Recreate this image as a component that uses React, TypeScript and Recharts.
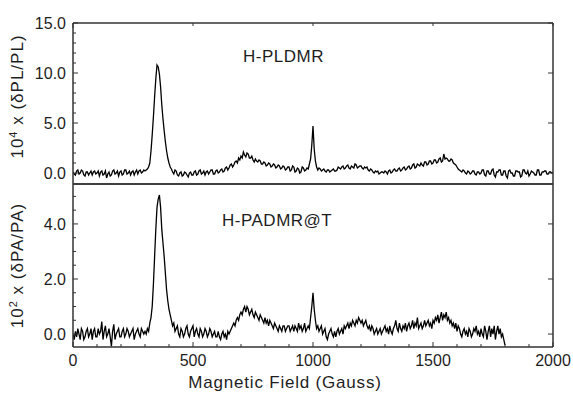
import React from "react";
import { LineChart, Line, XAxis, YAxis } from "recharts";

// field grid: one reading every 5 Gauss, starting at 0
const STEP = 5;

// 10^4 x (dPL/PL), 0..2000 G (one row = 100 G)
const plValues = [
  0.1, -0.1, -0.2, 0.2, 0.3, -0.1, 0.0, 0.3, 0.2, -0.2, -0.3, 0.1, 0.1, -0.2, 0.0, 0.2, -0.2, 0.1, 0.2, -0.1,
  0.0, 0.2, -0.3, 0.1, 0.2, -0.2, -0.1, 0.2, -0.5, -0.1, 0.1, -0.3, -0.2, 0.2, 0.3, -0.1, 0.0, 0.2, -0.3, 0.1,
  0.2, -0.2, -0.1, 0.3, 0.3, -0.1, 0.0, 0.2, -0.2, 0.1, 0.2, -0.2, 0.1, 0.3, -0.1, 0.2, 0.3, 0.0, 0.1, 0.3,
  0.2, 0.3, 0.4, 0.6, 1.0, 2.2, 3.8, 5.6, 7.6, 9.4, 10.8, 10.6, 9.9, 8.6, 6.8, 5.4, 4.2, 3.1, 2.2, 1.5,
  1.0, 0.6, 0.4, 0.1, -0.1, 0.3, 0.2, -0.2, -0.3, 0.0, 0.1, -0.3, -0.2, 0.1, 0.0, -0.2, -0.4, 0.0, 0.1, -0.2,
  -0.2, 0.1, 0.2, -0.2, -0.1, 0.2, 0.3, -0.1, 0.0, 0.2, -0.2, 0.1, 0.2, -0.1, 0.1, 0.3, 0.3, -0.1, -0.1, 0.2,
  0.3, 0.0, 0.1, 0.3, 0.4, 0.1, 0.2, 0.5, 0.6, 0.3, 0.5, 0.8, 0.9, 0.6, 0.8, 1.1, 1.2, 1.0, 1.5, 1.3,
  1.7, 1.5, 2.1, 1.8, 1.6, 2.0, 1.9, 1.5, 1.5, 1.7, 1.3, 1.1, 1.4, 1.2, 1.1, 1.3, 1.2, 0.9, 0.9, 1.1,
  1.0, 0.7, 0.8, 1.0, 0.9, 0.6, 0.7, 0.9, 0.8, 0.5, 0.6, 0.8, 0.7, 0.4, 0.5, 0.7, 0.6, 0.3, 0.4, 0.6,
  0.6, 0.2, 0.3, 0.7, 0.6, 0.1, 0.2, 0.5, 0.4, 0.0, 0.1, 0.6, 0.5, 0.2, 0.3, 0.5, 0.4, 0.9, 1.4, 2.8,
  4.7, 2.4, 1.2, 0.6, 0.3, 0.5, 0.4, 0.2, 0.3, 0.4, 0.2, 0.1, 0.3, 0.3, 0.1, 0.2, 0.3, 0.4, 0.2, 0.2,
  0.3, 0.6, 0.5, 0.4, 0.6, 0.7, 0.4, 0.5, 0.7, 0.8, 0.5, 0.4, 0.7, 0.6, 0.5, 0.9, 0.8, 0.5, 0.6, 0.7,
  0.7, 0.5, 0.4, 0.6, 0.5, 0.6, 0.3, 0.2, 0.4, 0.3, 0.1, 0.0, 0.2, 0.1, 0.2, -0.1, 0.0, 0.1, 0.1, 0.0,
  0.2, 0.1, -0.1, 0.2, 0.3, 0.0, 0.1, 0.3, 0.4, 0.2, 0.2, 0.4, 0.5, 0.2, 0.3, 0.5, 0.6, 0.3, 0.4, 0.6,
  0.7, 0.4, 0.5, 0.8, 0.9, 0.5, 0.6, 0.9, 0.8, 0.7, 1.0, 0.8, 0.7, 1.1, 1.1, 0.8, 0.9, 1.2, 1.2, 0.9,
  1.0, 1.3, 1.3, 1.0, 1.1, 1.4, 1.5, 1.1, 1.2, 1.9, 1.4, 1.5, 1.4, 1.2, 1.2, 1.4, 1.3, 1.0, 0.9, 0.8,
  0.6, 0.4, 0.3, 0.2, 0.1, 0.3, 0.2, 0.0, -0.1, 0.2, 0.1, -0.1, 0.0, 0.2, 0.2, -0.1, -0.2, 0.1, 0.1, -0.1,
  0.0, 0.3, 0.3, -0.2, -0.3, 0.2, 0.2, -0.1, -0.1, 0.3, 0.4, -0.2, -0.4, 0.1, 0.1, 0.3, 0.3, -0.2, -0.2, 0.2,
  0.2, -0.3, -0.5, 0.2, 0.3, 0.0, 0.0, -0.3, -0.3, 0.2, 0.2, 0.1, 0.1, -0.4, -0.3, 0.3, 0.3, 0.0, -0.1, 0.2,
  -0.3, -0.1, 0.2, 0.1, 0.0, -0.2, -0.2, 0.3, 0.3, -0.2, -0.2, 0.1, 0.1, 0.2, 0.2, -0.1, -0.1, 0.1, 0.1, 0.0,
  0.0,
];

// 10^2 x (dPA/PA), 0..1800 G (one row = 100 G)
const paValues = [
  0.0, -0.2, 0.1, -0.1, 0.2, 0.0, -0.2, 0.2, 0.1, -0.2, -0.1, 0.1, 0.2, -0.1, 0.0, 0.2, -0.2, 0.1, 0.2, -0.1,
  -0.1, 0.2, 0.0, 0.1, 0.45, -0.2, 0.1, 0.3, -0.1, 0.0, 0.2, -0.1, -0.45, 0.1, 0.35, -0.2, 0.0, 0.1, 0.2, -0.1,
  -0.1, 0.1, 0.2, -0.1, 0.0, 0.2, 0.1, -0.1, 0.0, 0.1, 0.2, -0.2, 0.0, 0.1, 0.2, 0.0, -0.1, 0.2, 0.1, 0.0,
  0.1, 0.0, 0.2, 0.1, 0.4, 0.6, 1.0, 1.8, 2.8, 3.8, 4.6, 4.9, 5.05, 4.6, 3.8, 3.3, 2.8, 2.2, 1.6, 1.2,
  0.9, 0.7, 0.5, 0.3, 0.4, 0.1, 0.2, 0.3, 0.0, -0.1, 0.2, 0.1, -0.1, 0.0, 0.2, 0.3, 0.0, -0.1, 0.1, 0.2,
  0.3, -0.1, 0.1, 0.2, 0.0, -0.1, 0.2, 0.1, -0.1, 0.0, 0.2, 0.1, -0.1, 0.0, 0.2, 0.1, -0.1, 0.0, 0.1, -0.1,
  -0.1, 0.1, -0.1, -0.2, 0.0, 0.1, -0.1, 0.0, -0.2, 0.1, 0.0, 0.1, 0.2, 0.3, 0.4, 0.3, 0.5, 0.6, 0.5, 0.7,
  0.8, 0.7, 0.9, 1.0, 0.8, 1.0, 0.9, 0.7, 0.8, 0.9, 0.7, 0.6, 0.8, 0.7, 0.6, 0.5, 0.7, 0.6, 0.5, 0.4,
  0.6, 0.4, 0.5, 0.3, 0.5, 0.4, 0.3, 0.2, 0.4, 0.3, 0.2, 0.1, 0.3, 0.2, 0.1, 0.3, 0.3, 0.1, 0.2, 0.3,
  0.3, 0.1, 0.2, 0.3, 0.1, 0.3, 0.2, 0.1, 0.4, 0.2, 0.3, 0.1, 0.2, 0.4, 0.1, 0.2, 0.3, 0.2, 0.6, 1.0,
  1.5, 0.9, 0.5, 0.2, 0.3, 0.1, 0.2, 0.3, 0.0, 0.1, 0.2, -0.1, -0.2, 0.0, 0.1, 0.2, 0.0, -0.1, 0.1, -0.1,
  0.1, 0.2, 0.0, 0.1, 0.2, 0.0, 0.3, 0.2, 0.3, 0.4, 0.2, 0.4, 0.3, 0.5, 0.4, 0.3, 0.5, 0.4, 0.6, 0.5,
  0.4, 0.5, 0.3, 0.4, 0.5, 0.3, 0.2, 0.3, 0.1, 0.3, 0.2, 0.0, 0.1, 0.2, 0.0, 0.1, 0.2, 0.0, 0.1, 0.2,
  0.3, 0.1, 0.2, 0.0, 0.3, 0.1, 0.0, 0.2, 0.3, 0.5, 0.2, 0.1, 0.4, 0.2, 0.1, 0.3, 0.2, 0.4, 0.1, 0.3,
  0.4, 0.2, 0.3, 0.5, 0.2, 0.4, 0.3, 0.6, 0.2, 0.3, 0.4, 0.2, 0.3, 0.5, 0.3, 0.4, 0.5, 0.3, 0.4, 0.2,
  0.5, 0.4, 0.6, 0.5, 0.7, 0.4, 0.6, 0.8, 0.5, 0.7, 0.6, 0.8, 0.5, 0.6, 0.4, 0.5, 0.3, 0.4, 0.2, 0.4,
  0.1, 0.3, 0.2, 0.0, -0.1, 0.1, 0.2, 0.0, 0.1, -0.1, 0.2, 0.1, -0.1, 0.0, 0.2, 0.1, 0.3, 0.0, 0.1, -0.1,
  0.2, 0.0, -0.1, 0.3, 0.1, -0.2, 0.1, 0.3, -0.1, 0.2, 0.0, 0.3, -0.2, 0.1, 0.3, 0.0, 0.2, -0.1, 0.0, -0.2,
  -0.4,
];

const xMajor = [0, 500, 1000, 1500, 2000];
const xMinor = [
  0, 100, 200, 300, 400, 500, 600, 700, 800, 900, 1000,
  1100, 1200, 1300, 1400, 1500, 1600, 1700, 1800, 1900, 2000,
];
const plMajor = [0, 5, 10, 15];
const plMinor = [0, 1, 2, 3, 4, 5, 6, 7, 8, 9, 10, 11, 12, 13, 14, 15];
const paMajor = [0, 2, 4];
const paMinor = [0, 0.5, 1, 1.5, 2, 2.5, 3, 3.5, 4, 4.5, 5];

const plData = plValues.map((v, i) => ({ g: i * STEP, v }));
const paData = paValues.map((v, i) => ({ g: i * STEP, v }));

const FONT = "'Liberation Sans', Arial, sans-serif";
const INK = "#1e1e1e";
const FRAME = "#333";

// tick renderers: line drawn inward, label outside
const leftTick = (majors: number[]) => (p: any) => {
  const val = p.payload.value;
  const big = majors.includes(val);
  return (
    <g>
      <line x1={p.x} y1={p.y} x2={p.x + (big ? 5 : 3)} y2={p.y} stroke={FRAME} />
      {big && (
        <text x={p.x - 7} y={p.y + 6} textAnchor="end" fontSize={16} fill={INK} fontFamily={FONT}>
          {val.toFixed(1)}
        </text>
      )}
    </g>
  );
};

const rightTick = (p: any) => (
  <line x1={p.x} y1={p.y} x2={p.x - 5} y2={p.y} stroke={FRAME} />
);

const topTick = (p: any) => {
  const big = xMajor.includes(p.payload.value);
  return <line x1={p.x} y1={p.y} x2={p.x} y2={p.y + (big ? 5 : 3)} stroke={FRAME} />;
};

const bottomTick = (p: any) => {
  const big = xMajor.includes(p.payload.value);
  return (
    <g>
      <line x1={p.x} y1={p.y} x2={p.x} y2={p.y - (big ? 5 : 3)} stroke={FRAME} />
      {big && (
        <text x={p.x} y={p.y + 19} textAnchor="middle" fontSize={16} fill={INK} fontFamily={FONT}>
          {p.payload.value}
        </text>
      )}
    </g>
  );
};

const noTick = () => <g />;

const yTitle = (sup: string, rest: string, dy: number) => (props: any) => {
  const vb = props.viewBox;
  const cx = vb.x + 23;
  const cy = vb.y + vb.height / 2 + dy;
  return (
    <text
      transform={`translate(${cx},${cy}) rotate(-90)`}
      textAnchor="middle"
      fontSize={17}
      fill={INK}
      fontFamily={FONT}
      letterSpacing={1}
    >
      10<tspan dy={-6} fontSize={11}>{sup}</tspan>
      <tspan dy={6}>{rest}</tspan>
    </text>
  );
};

const axisLine = { stroke: FRAME, strokeWidth: 1.5 };

const W = 573;
const H = 396;

const Panel = ({ data, domain, ticks, majors, top, bottom, title, showXLabels }: any) => (
  <div style={{ position: "absolute", left: 0, top: 0 }}>
    <LineChart
      width={W}
      height={H}
      data={data}
      margin={{ top: top - 1, right: 19, bottom: H - bottom - 1, left: 0 }}
    >
      <XAxis
        xAxisId="b"
        dataKey="g"
        type="number"
        domain={[0, 2000]}
        allowDataOverflow
        ticks={xMinor}
        interval={0}
        height={1}
        tickSize={0}
        tickMargin={0}
        tickLine={false}
        axisLine={axisLine}
        tick={showXLabels ? bottomTick : noTick}
        label={
          showXLabels
            ? () => (
                <text
                  x={285}
                  y={388}
                  textAnchor="middle"
                  fontSize={17}
                  fill={INK}
                  fontFamily={FONT}
                  letterSpacing={0.8}
                >
                  Magnetic Field (Gauss)
                </text>
              )
            : undefined
        }
      />
      <XAxis
        xAxisId="t"
        orientation="top"
        type="number"
        domain={[0, 2000]}
        allowDataOverflow
        ticks={xMinor}
        interval={0}
        height={1}
        tickSize={0}
        tickMargin={0}
        tickLine={false}
        axisLine={axisLine}
        tick={showXLabels ? noTick : topTick}
      />
      <YAxis
        yAxisId="l"
        type="number"
        domain={domain}
        allowDataOverflow
        ticks={ticks}
        interval={0}
        width={73}
        tickSize={0}
        tickMargin={0}
        tickLine={false}
        axisLine={axisLine}
        tick={leftTick(majors)}
        label={title}
      />
      <YAxis
        yAxisId="r"
        orientation="right"
        type="number"
        domain={domain}
        allowDataOverflow
        ticks={majors}
        interval={0}
        width={1}
        tickSize={0}
        tickMargin={0}
        tickLine={false}
        axisLine={axisLine}
        tick={rightTick}
      />
      <Line
        xAxisId="b"
        yAxisId="l"
        dataKey="v"
        type="linear"
        stroke="#000"
        strokeWidth={1.3}
        dot={false}
        isAnimationActive={false}
      />
    </LineChart>
  </div>
);

export default function App() {
  return (
    <div style={{ position: "relative", width: W, height: H, background: "#fff", fontFamily: FONT }}>
      <style>{`body{margin:0}`}</style>
      <Panel
        data={plData}
        domain={[-1.1, 15]}
        ticks={plMinor}
        majors={plMajor}
        top={23}
        bottom={184}
        title={yTitle("4", " x (δPL/PL)", -7)}
        showXLabels={false}
      />
      <Panel
        data={paData}
        domain={[-0.47, 5.45]}
        ticks={paMinor}
        majors={paMajor}
        top={184}
        bottom={347}
        title={yTitle("2", " x (δPA/PA)", 0)}
        showXLabels={true}
      />
      <div style={{ position: "absolute", left: 243, top: 47, fontSize: 17, color: INK, letterSpacing: 0.5 }}>
        H-PLDMR
      </div>
      <div style={{ position: "absolute", left: 222, top: 211, fontSize: 17, color: INK, letterSpacing: 0.5 }}>
        H-PADMR@T
      </div>
    </div>
  );
}
